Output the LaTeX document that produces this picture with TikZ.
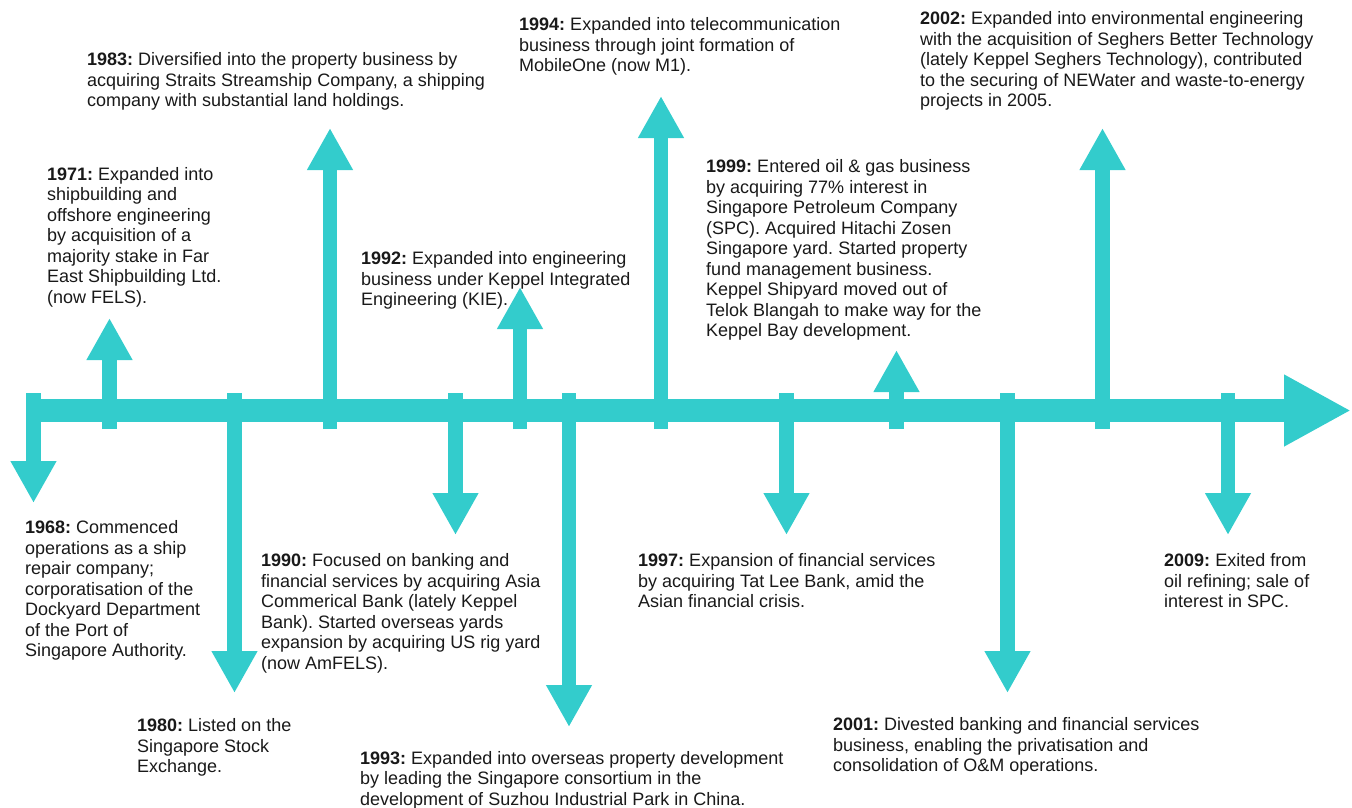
\documentclass[tikz,border=0pt]{standalone}
\usepackage{fontspec}
\setmainfont{Liberation Sans}
\usepackage{xcolor}
\usetikzlibrary{arrows.meta}
\definecolor{kteal}{RGB}{51,204,204}
\frenchspacing

\begin{document}
\begin{tikzpicture}[x=1pt,y=-1pt,
    event/.style={anchor=north west,inner sep=0pt,align=left,
      font=\fontsize{18}{20.5}\selectfont,text=black!90},
    stem/.style={draw=kteal,line width=14.5pt,
      -{Triangle[width=43pt,length=42pt]}},
    axis/.style={draw=kteal,line width=23pt,
      -{Triangle[width=67pt,length=67pt]}}]
  \useasboundingbox (0,0) rectangle (1352,807);

  % time axis
  \coordinate (start) at (26,410.5);
  \coordinate (stop) at (1351,410.5);
  \draw[axis] (start) -- (stop);

  % stems below the axis
  \coordinate (b68) at (33.5,393);   \coordinate (h68) at (33.5,503);
  \coordinate (b80) at (234.5,393);  \coordinate (h80) at (234.5,693);
  \coordinate (b90) at (455.5,393);  \coordinate (h90) at (455.5,535);
  \coordinate (b93) at (569,393);    \coordinate (h93) at (569,727);
  \coordinate (b97) at (786.5,393);  \coordinate (h97) at (786.5,535);
  \coordinate (b01) at (1007.5,393); \coordinate (h01) at (1007.5,693);
  \coordinate (b09) at (1228,393);   \coordinate (h09) at (1228,535);
  % stems above the axis
  \coordinate (b71) at (109.5,429);  \coordinate (h71) at (109.5,318);
  \coordinate (b83) at (330,429);    \coordinate (h83) at (330,128);
  \coordinate (b92) at (520,429);    \coordinate (h92) at (520,287);
  \coordinate (b94) at (661,429);    \coordinate (h94) at (661,96);
  \coordinate (b99) at (896.5,429);  \coordinate (h99) at (896.5,350);
  \coordinate (b02) at (1102.5,429); \coordinate (h02) at (1102.5,128);

  \draw[stem] (b68) -- (h68);
  \draw[stem] (b80) -- (h80);
  \draw[stem] (b90) -- (h90);
  \draw[stem] (b93) -- (h93);
  \draw[stem] (b97) -- (h97);
  \draw[stem] (b01) -- (h01);
  \draw[stem] (b09) -- (h09);
  \draw[stem] (b71) -- (h71);
  \draw[stem] (b83) -- (h83);
  \draw[stem] (b92) -- (h92);
  \draw[stem] (b94) -- (h94);
  \draw[stem] (b99) -- (h99);
  \draw[stem] (b02) -- (h02);

  % events
  \node[event] (e68) at (25,520.5) {\textbf{1968:} Commenced\\operations as a ship\\repair company;\\corporatisation of the\\Dockyard Department\\of the Port of\\Singapore Authority.};
  \node[event] (e71) at (47,167) {\textbf{1971:} Expanded into\\shipbuilding and\\offshore engineering\\by acquisition of a\\majority stake in Far\\East Shipbuilding Ltd.\\(now FELS).};
  \node[event] (e80) at (137,718.5) {\textbf{1980:} Listed on the\\Singapore Stock\\Exchange.};
  \node[event] (e83) at (87,52.5) {\textbf{1983:} Diversified into the property business by\\acquiring Straits Streamship Company, a shipping\\company with substantial land holdings.};
  \node[event] (e90) at (261,553.5) {\textbf{1990:} Focused on banking and\\financial services by acquiring Asia\\Commerical Bank (lately Keppel\\Bank). Started overseas yards\\expansion by acquiring US rig yard\\(now AmFELS).};
  \node[event] (e92) at (361,251.5) {\textbf{1992:} Expanded into engineering\\business under Keppel Integrated\\Engineering (KIE).};
  \node[event] (e93) at (360,751) {\textbf{1993:} Expanded into overseas property development\\by leading the Singapore consortium in the\\development of Suzhou Industrial Park in China.};
  \node[event] (e94) at (519,17.5) {\textbf{1994:} Expanded into telecommunication\\business through joint formation of\\MobileOne (now M1).};
  \node[event] (e97) at (638,553.5) {\textbf{1997:} Expansion of financial services\\by acquiring Tat Lee Bank, amid the\\Asian financial crisis.};
  \node[event] (e99) at (706,159.5) {\textbf{1999:} Entered oil \& gas business\\by acquiring 77\% interest in\\Singapore Petroleum Company\\(SPC). Acquired Hitachi Zosen\\Singapore yard. Started property\\fund management business.\\Keppel Shipyard moved out of\\Telok Blangah to make way for the\\Keppel Bay development.};
  \node[event] (e01) at (833,717.5) {\textbf{2001:} Divested banking and financial services\\business, enabling the privatisation and\\consolidation of O\&M operations.};
  \node[event] (e02) at (920,11.5) {\textbf{2002:} Expanded into environmental engineering\\with the acquisition of Seghers Better Technology\\(lately Keppel Seghers Technology), contributed\\to the securing of NEWater and waste-to-energy\\projects in 2005.};
  \node[event] (e09) at (1164,553.5) {\textbf{2009:} Exited from\\oil refining; sale of\\interest in SPC.};
\end{tikzpicture}
\end{document}
